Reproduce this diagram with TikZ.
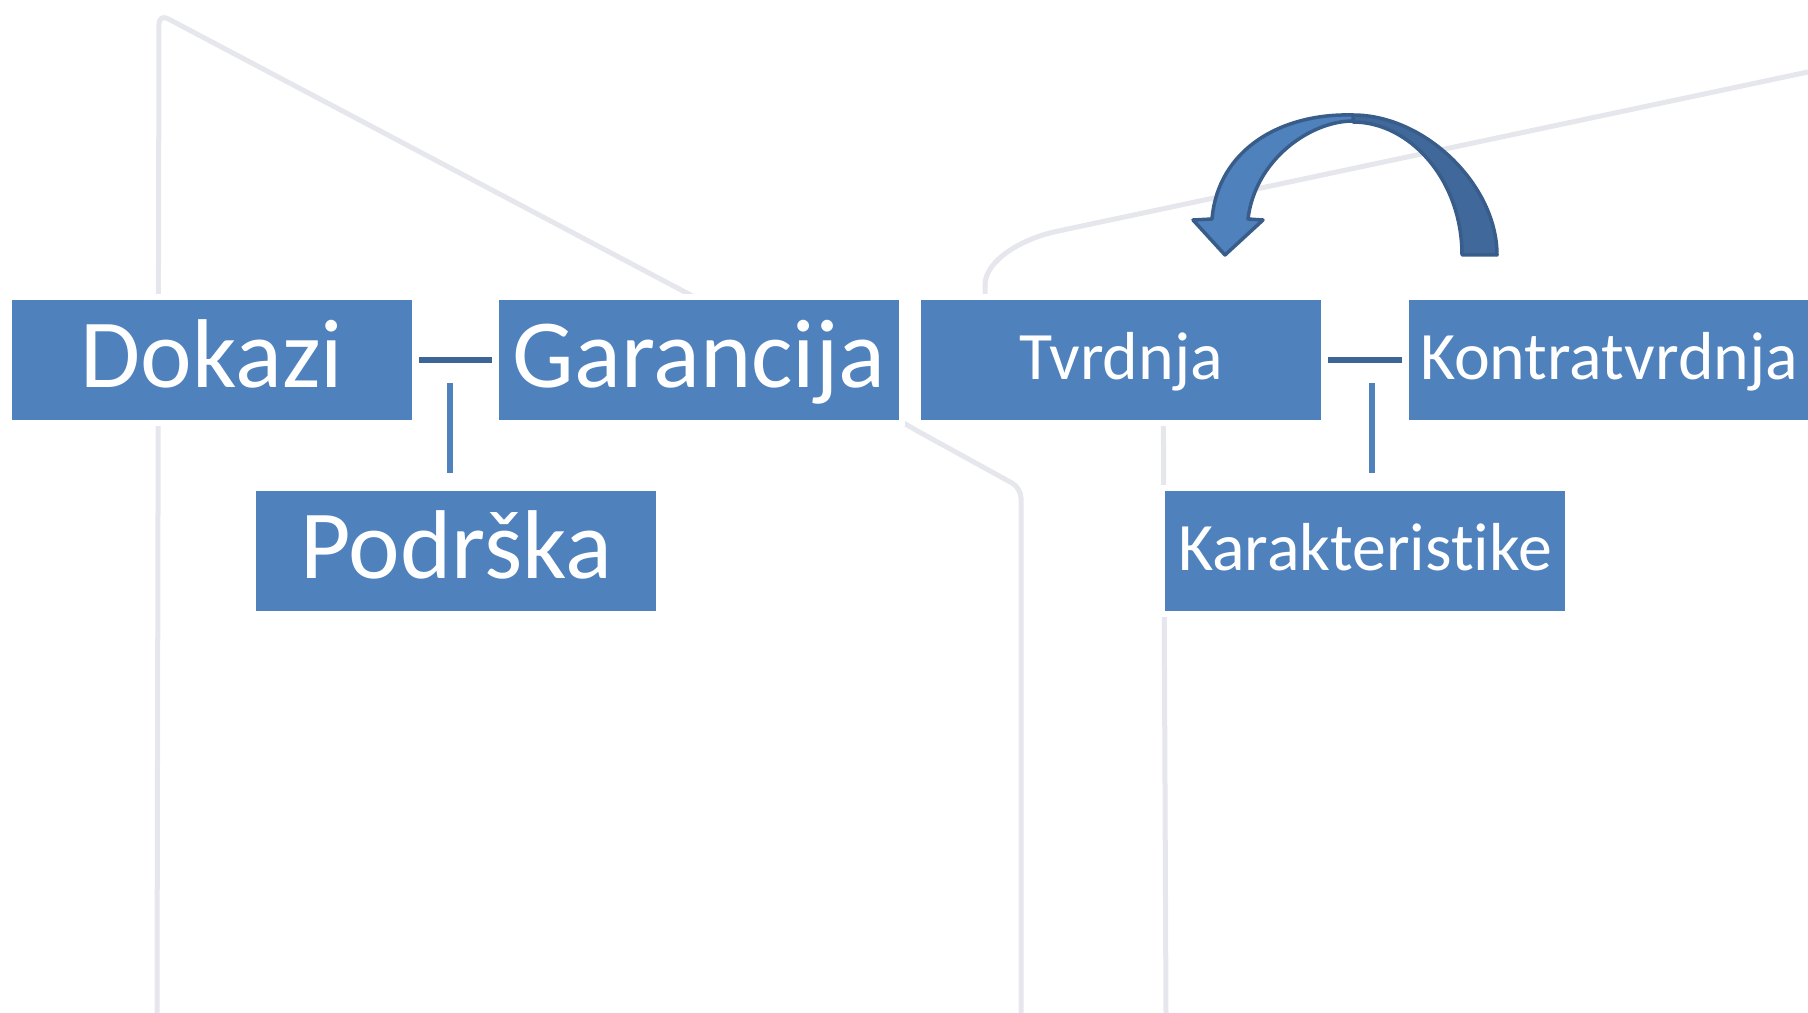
\documentclass[tikz,border=0pt]{standalone}
\usepackage{fontspec}
\setmainfont{Carlito}[Ligatures=NoCommon]
\usetikzlibrary{arrows.meta,calc,positioning}
\definecolor{boxblue}{RGB}{79,129,189}
\definecolor{linkdark}{RGB}{62,101,151}
\definecolor{arrowdark}{RGB}{64,104,154}
\definecolor{arrowline}{RGB}{56,93,138}
\definecolor{bgline}{RGB}{230,231,236}

\begin{document}
\begin{tikzpicture}[x=0.01cm, y=-0.01cm,
  box/.style={fill=boxblue, text=white, inner sep=0pt, minimum width=4cm, minimum height=1.19cm,
    preaction={draw=white, line width=0.12cm}},
  bigtext/.style={font=\fontsize{27.8pt}{30pt}\selectfont, text height=0.87cm, text depth=0.32cm},
  smalltext/.style={font=\fontsize{19.3pt}{22pt}\selectfont, text height=0.79cm, text depth=0.40cm},
  linkh/.style={draw=linkdark, line width=0.06cm, shorten <=0.06cm, shorten >=0.06cm},
  linkv/.style={draw=boxblue, line width=0.06cm, shorten >=0.175cm},
  bgstroke/.style={draw=bgline, line width=0.05cm, rounded corners=0.1cm},
  bendarrow/.style={draw=arrowline, line width=0.035cm, line join=round}]
  \useasboundingbox (0,0) rectangle (1808,1013);
  % background strokes
  \draw[bgstroke] (157,1013) -- (159,14) -- (700,300) -- (912,428) -- (1021,488) -- (1021,1013);
  \draw[bgstroke] (1163,330) -- (1166,1013);
  \draw[bgstroke] (985,330) -- (985,295) .. controls (985,260) and (1023,239) .. (1063,230) -- (1808,72);
  % boxes
  \node[box, bigtext] (dokazi) at (212,360) {Dokazi};
  \node[box, bigtext] (garancija) at (699,360) {Garancija};
  \node[box, smalltext] (tvrdnja) at (1121,360) {Tvrdnja};
  \node[box, smalltext] (kontra) at (1609,360) {Kontratvrdnja};
  \node[box, bigtext] (podrska) at (456,551) {Podrška};
  \node[box, smalltext] (karakt) at (1365,551) {Karakteristike};
  % connectors
  \coordinate (j1) at (450,383);
  \coordinate (j2) at (1372,383);
  \draw[linkh] (dokazi) -- (garancija);
  \draw[linkv] (j1) -- (j1 |- podrska.north);
  \draw[linkh] (tvrdnja) -- (kontra);
  \draw[linkv] (j2) -- (j2 |- karakt.north);
  % curved arrow
  \draw[bendarrow, fill=arrowdark]
    (1353,115) .. controls (1425,115) and (1497,185) .. (1497,255)
    -- (1462,255) .. controls (1462,180) and (1410,122) .. (1353,122) -- cycle;
  \draw[bendarrow, fill=boxblue]
    (1353,115) .. controls (1280,113) and (1218,150) .. (1212,219)
    -- (1193,220) -- (1225,255) -- (1263,220) -- (1248,219)
    .. controls (1255,160) and (1310,121) .. (1353,121) -- cycle;
\end{tikzpicture}
\end{document}
